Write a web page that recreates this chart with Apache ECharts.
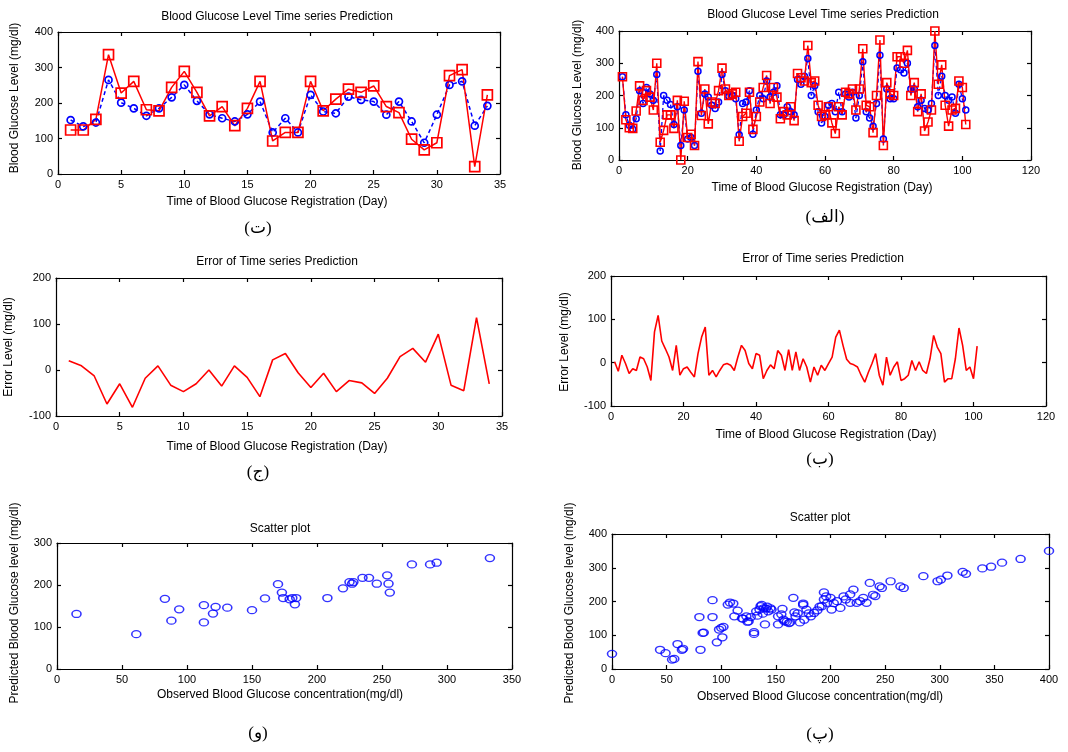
<!DOCTYPE html>
<html><head><meta charset="utf-8">
<script src="https://cdn.jsdelivr.net/npm/echarts@6/dist/echarts.min.js"></script>
<style>html,body{margin:0;padding:0;background:#fff}#c{width:1068px;height:752px}</style>
</head><body><div id="c"></div>
<script>
// ---- Panel (ت): 34 days ----
const obs1 = [124,124,154,336,228,261,181,178,244,289,230,164,190,136,185,261,93,117,117,261,178,211,239,230,248,190,173,98,68,88,277,294,21,223];
const pred1 = [152,134,145,265,201,185,164,185,216,251,206,168,157,148,168,204,117,157,117,223,176,171,218,209,204,167,204,148,88,167,251,261,136,192];
// ---- Panel (ج): error, 34 days ----
const err1 = [20,9,-13,-74,-30,-81,-18,9,-33,-47,-30,0,-35,9,-16,-58,22,36,-6,-38,-7,-47,-23,-28,-51,-18,29,47,17,78,-33,-45,114,-30];
// ---- Panel (الف): 101 days ----
const obs2 = [258,125,100,98,152,230,185,215,195,155,
 300,55,92,140,140,98,185,0,182,70,
 80,45,305,138,220,112,180,175,215,285,
 220,200,205,210,58,135,145,210,95,135,
 180,225,262,175,225,195,128,150,140,165,
 122,268,255,245,355,240,245,170,135,140,
 165,115,82,165,140,210,205,220,155,220,
 345,170,165,85,200,372,45,240,205,200,
 320,320,300,340,200,240,150,205,90,118,
 155,400,235,295,170,105,155,160,245,225,
 110];
const pred2 = [258,140,108,95,128,215,175,225,205,185,
 265,28,200,185,172,110,165,45,155,65,
 70,45,275,145,205,195,170,160,180,265,
 215,198,200,190,78,175,180,215,80,155,
 200,190,245,195,210,230,140,140,165,150,
 140,250,235,260,315,200,230,150,115,135,
 170,175,150,210,150,205,195,210,130,200,
 305,150,130,105,175,325,65,220,190,190,
 285,280,270,300,220,220,165,185,160,155,
 175,355,200,260,200,185,195,145,235,190,
 155];
// ---- Panel (ب): error, 101 days ----
const err2 = [2,-20,17,-2,-25,-14,-18,13,9,-10,
 -41,71,109,50,32,13,-18,40,-29,-14,
 -10,-22,-33,21,59,82,-29,-18,-33,-18,
 -5,-2,-6,-18,13,40,28,-2,-14,21,
 17,-37,-18,-5,-14,28,17,-18,30,-18,
 25,-18,9,-10,-45,-10,-29,-6,-18,-2,
 13,59,75,40,8,-2,-5,-10,-29,-45,
 -22,-2,21,-29,-52,13,-29,-10,2,-41,
 -37,-29,5,-18,2,-18,-25,9,63,36,
 21,-45,-37,-37,9,80,40,-18,-10,-37,
 38];
// ---- Panel (و): scatter ----
const sObs1 = [15,61,83,88,94,113,113,120,122,131,150,160,170,173,174,179,181,184,183,208,220,225,227,228,235,240,246,254,255,256,273,287,292,333];
const sPred1 = [131,83,167,115,142,152,111,132,148,146,140,168,202,182,169,166,169,169,154,169,192,207,203,207,217,217,203,223,203,182,249,249,253,264];
// ---- Panel (پ): scatter ----
const sObs2 = [0,44,49,55,57,60,64,65,80,81,
 83,84,92,92,96,98,100,101,102,106,
 108,111,112,115,119,120,123,124,125,127,
 130,130,132,133,135,136,137,138,139,140,
 141,142,143,145,146,152,152,155,156,157,
 158,160,162,163,166,167,168,170,172,175,
 175,176,178,180,182,185,188,190,192,194,
 194,196,197,200,201,203,206,209,212,214,
 218,218,221,224,227,230,233,236,239,241,
 245,247,255,264,267,285,298,301,307,321,
 324,339,347,357,374,400];
const sPred2 = [45,57,47,28,30,74,57,60,154,57,
 107,108,204,154,79,117,122,94,125,191,
 197,194,156,173,150,149,156,140,141,154,
 109,104,171,158,176,186,190,164,180,132,
 179,185,171,180,176,132,156,162,178,146,
 141,140,136,138,211,168,156,165,138,194,
 190,146,176,165,156,166,174,185,186,227,
 206,215,196,211,176,195,201,181,215,206,
 221,196,235,196,201,211,196,255,220,216,
 245,240,260,245,240,275,260,265,277,288,
 282,298,303,315,326,350];

const titleTS = 'Blood Glucose Level Time series Prediction';
const titleErr = 'Error of Time series Prediction';
const titleSc = 'Scatter plot';
const xTime = 'Time of Blood Glucose Registration (Day)';
const xObs = 'Observed Blood Glucose concentration(mg/dl)';
const yBG = 'Blood Glucose Level (mg/dl)';
const yErr = 'Error Level (mg/dl)';
const yPred = 'Predicted Blood Glucose level (mg/dl)';
const captions = ['(ت)','(الف)','(ج)','(ب)','(و)','(پ)'];

const FONT = '"Liberation Sans", Arial, sans-serif';
const CAPFONT = '"Liberation Serif", "DejaVu Sans", serif';

const panels = [
 {grid:{left:58, top:32, width:442, height:142}, x:[0,35,5], y:[0,400,100]},
 {grid:{left:619, top:31, width:412, height:129}, x:[0,120,20], y:[0,400,100]},
 {grid:{left:56, top:278, width:446, height:138}, x:[0,35,5], y:[-100,200,100]},
 {grid:{left:611, top:276, width:435, height:130}, x:[0,120,20], y:[-100,200,100]},
 {grid:{left:57, top:543, width:455, height:126}, x:[0,350,50], y:[0,300,100]},
 {grid:{left:612, top:534, width:437, height:135}, x:[0,400,50], y:[0,400,100]}
];

const grids = [], xAxis = [], yAxis = [];
panels.forEach((p, i) => {
  grids.push(Object.assign({containLabel:false}, p.grid));
  const common = (r, pos, showLabel) => ({
    type:'value', gridIndex:i, position:pos, min:r[0], max:r[1], interval:r[2],
    axisLine:{show:true, onZero:false, lineStyle:{color:'#000', width:1.2}},
    axisTick:{show:true, inside:true, length:4, lineStyle:{color:'#000', width:1.2}},
    axisLabel:{show:showLabel, color:'#000', fontSize:11, fontFamily:FONT, margin:5},
    splitLine:{show:false}
  });
  xAxis.push(common(p.x, 'bottom', true));
  xAxis.push(common(p.x, 'top', false));
  yAxis.push(common(p.y, 'left', true));
  yAxis.push(common(p.y, 'right', false));
});

const pairsIdx = arr => arr.map((v, i) => [i + 1, v]);
const pairsXY = (xs, ys) => xs.map((v, i) => [v, ys[i]]);
const ax = i => ({xAxisIndex:2*i, yAxisIndex:2*i});

function tsSeries(i, vals, color, symbol, size, dashed, lw) {
  return Object.assign({
    type:'line', data:pairsIdx(vals), symbol:symbol, symbolSize:size, showAllSymbol:true,
    itemStyle:{color:'rgba(0,0,0,0)', borderColor:color, borderWidth:lw + 0.2},
    lineStyle:{color:color, width:lw, type: dashed ? [4,3] : 'solid'},
    emphasis:{disabled:true}, silent:true, animation:false
  }, ax(i));
}
function errSeries(i, vals) {
  return Object.assign({
    type:'line', data:pairsIdx(vals), symbol:'none',
    lineStyle:{color:'#ff0000', width:1.6}, silent:true, animation:false
  }, ax(i));
}
function scSeries(i, xs, ys) {
  return Object.assign({
    type:'scatter', data:pairsXY(xs, ys), symbol:'circle', symbolSize:[9,7],
    itemStyle:{color:'rgba(0,0,0,0)', borderColor:'#0000ff', borderWidth:1.4},
    silent:true, animation:false
  }, ax(i));
}

const series = [
  tsSeries(0, pred1, '#0000ff', 'circle', 7, true, 1.5),
  tsSeries(0, obs1, '#ff0000', 'rect', 10, false, 1.5),
  tsSeries(1, pred2, '#0000ff', 'circle', 6, true, 1.3),
  tsSeries(1, obs2, '#ff0000', 'rect', 8, false, 1.4),
  errSeries(2, err1),
  errSeries(3, err2),
  scSeries(4, sObs1, sPred1),
  scSeries(5, sObs2, sPred2)
];

const txt = (t, x, y, opt) => Object.assign({
  type:'text', x:x, y:y, silent:true,
  style:{text:t, fill:'#000', fontSize:12, fontFamily:FONT, align:'center', verticalAlign:'middle'}
}, opt || {});
const vtxt = (t, x, y) => txt(t, x, y, {rotation:Math.PI/2});
const cap = (t, x, y) => ({type:'text', x:x, y:y, silent:true,
  style:{text:t, fill:'#000', fontSize:17, fontFamily:CAPFONT, align:'center', verticalAlign:'middle'}});

const graphic = [
  txt(titleTS, 277, 17), txt(titleTS, 823, 15),
  txt(titleErr, 277, 262), txt(titleErr, 823, 259),
  txt(titleSc, 280, 529), txt(titleSc, 820, 518),
  txt(xTime, 277, 202), txt(xTime, 822, 188),
  txt(xTime, 277, 447), txt(xTime, 826, 435),
  txt(xObs, 280, 695), txt(xObs, 820, 697),
  vtxt(yBG, 15, 98), vtxt(yBG, 578, 95),
  vtxt(yErr, 9, 347), vtxt(yErr, 565, 342),
  vtxt(yPred, 15, 603), vtxt(yPred, 570, 603),
  cap(captions[0], 258, 229), cap(captions[1], 825, 218),
  cap(captions[2], 258, 473), cap(captions[3], 820, 460),
  cap(captions[4], 258, 734), cap(captions[5], 820, 735)
];

const chart = echarts.init(document.getElementById('c'), null, {renderer:'canvas'});
chart.setOption({
  backgroundColor:'#ffffff', animation:false,
  grid:grids, xAxis:xAxis, yAxis:yAxis, series:series, graphic:graphic
});
</script></body></html>
